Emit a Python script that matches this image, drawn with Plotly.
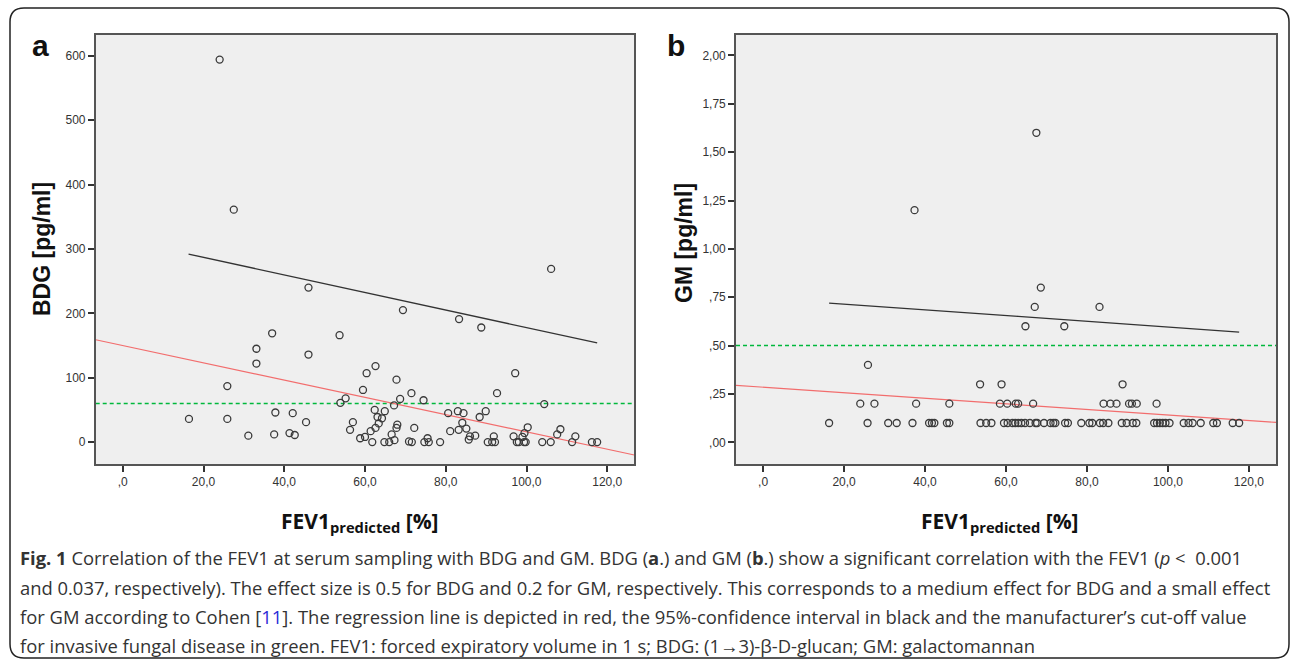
import plotly.graph_objects as go
import re

W, H = 1292, 662

# ---------------- data ----------------
x_tick_vals = [0, 20, 40, 60, 80, 100, 120]
x_tick_text = [",0", "20,0", "40,0", "60,0", "80,0", "100,0", "120,0"]

bdg_tick_vals = [0, 100, 200, 300, 400, 500, 600]
bdg_tick_text = ["0", "100", "200", "300", "400", "500", "600"]

gm_tick_vals = [0, 0.25, 0.5, 0.75, 1.0, 1.25, 1.5, 1.75, 2.0]
gm_tick_text = [",00", ",25", ",50", ",75", "1,00", "1,25", "1,50", "1,75", "2,00"]

bdg_fev1 = [24.0, 27.5, 46.0, 106.1, 69.4, 83.3, 88.8, 37.0, 53.7, 33.1, 46.0, 33.1,
            62.6, 60.4, 97.2, 67.8, 25.9, 59.5, 71.5, 92.7, 55.2, 68.7, 74.5, 53.9,
            67.2, 104.4, 62.4, 64.9, 37.8, 42.1, 80.6, 83.0, 84.4, 89.9, 88.4, 63.1,
            64.2, 16.4, 25.9, 45.4, 57.0, 63.4, 84.1, 68.0, 62.6, 67.8, 72.2, 85.1,
            100.3, 108.4, 56.3, 61.4, 81.1, 83.2, 99.5, 107.6, 112.1, 31.1, 37.5, 41.3,
            42.6, 60.0, 58.8, 66.6, 86.0, 87.3, 85.7, 91.9, 96.8, 99.0, 75.5, 70.9,
            67.3, 61.8, 64.8, 66.0, 71.6, 74.7, 75.8, 78.6, 90.4, 91.5, 92.2, 97.6,
            98.1, 99.4, 99.8, 103.9, 106.0, 111.3, 116.2, 117.5]
bdg_value = [594, 361, 240, 269, 205, 191, 178, 169, 166, 145, 136, 122,
             118, 107, 107, 97, 87, 81, 76, 76, 68, 67, 65, 61,
             57, 59, 50, 48, 46, 45, 45, 48, 45, 48, 39, 39,
             37, 36, 36, 31, 31, 29, 30, 27, 22, 22, 22, 21,
             23, 20, 19, 17, 17, 19, 14, 12, 9, 10, 12, 14,
             11, 8, 6, 12, 9, 10, 4, 9, 9, 8, 6, 1,
             3, 0, 0, 0, 0, 0, 0, 0, 0, 0, 0, 0,
             0, 0, 0, 0, 0, 0, 0, 0]

gm_fev1 = [67.5, 37.4, 68.6, 67.1, 83.1, 64.8, 74.4, 25.9, 53.6, 58.9, 88.8,
           24.0, 27.5, 37.8, 46.0, 58.5, 60.3, 62.4, 63.0, 66.7, 84.1, 85.8, 87.3,
           90.4, 91.1, 92.3, 97.2,
           16.3, 25.8, 30.9, 33.0, 36.9, 41.0, 41.7, 42.3, 45.4, 46.0, 53.7, 55.1,
           56.4, 59.5, 60.4, 61.6, 62.3, 63.0, 63.8, 64.7, 65.9, 67.3, 67.7, 69.4,
           71.0, 71.7, 72.2, 74.6, 75.3, 78.6, 80.6, 81.3, 83.2, 84.0, 85.3, 88.6,
           89.8, 91.3, 92.2, 96.6, 97.3, 98.0, 98.7, 99.4, 100.4, 103.9, 105.1, 106.1,
           108.1, 111.2, 112.1, 116.0, 117.6]
gm_value = [1.6, 1.2, 0.8, 0.7, 0.7, 0.6, 0.6, 0.4, 0.3, 0.3, 0.3,
            0.2, 0.2, 0.2, 0.2, 0.2, 0.2, 0.2, 0.2, 0.2, 0.2, 0.2, 0.2,
            0.2, 0.2, 0.2, 0.2,
            0.1, 0.1, 0.1, 0.1, 0.1, 0.1, 0.1, 0.1, 0.1, 0.1, 0.1, 0.1,
            0.1, 0.1, 0.1, 0.1, 0.1, 0.1, 0.1, 0.1, 0.1, 0.1, 0.1, 0.1,
            0.1, 0.1, 0.1, 0.1, 0.1, 0.1, 0.1, 0.1, 0.1, 0.1, 0.1, 0.1,
            0.1, 0.1, 0.1, 0.1, 0.1, 0.1, 0.1, 0.1, 0.1, 0.1, 0.1, 0.1,
            0.1, 0.1, 0.1, 0.1, 0.1]

# regression lines (intercept, slope), CI upper line points, cut-offs
bdg_reg = (150.0, -1.342)
gm_reg = (0.285, -0.001437)
bdg_ci_x = [16.3, 117.5]
bdg_ci_y = [292.0, 154.0]
gm_ci_x = [16.3, 63.0, 117.6]
gm_ci_y = [0.720, 0.651, 0.570]
bdg_cutoff = 60
gm_cutoff = 0.5

x_range = [-6.7, 126.7]
bdg_range = [-34, 633]
gm_range = [-0.112, 2.108]

caption_lines = [
    "<b>Fig. 1</b> Correlation of the FEV1 at serum sampling with BDG and GM. BDG (<b>a</b>.) and GM (<b>b</b>.) show a significant correlation with the FEV1 (<i>p</i> <  0.001",
    "and 0.037, respectively). The effect size is 0.5 for BDG and 0.2 for GM, respectively. This corresponds to a medium effect for BDG and a small effect",
    "for GM according to Cohen [<span style='color:#2b2bd6'>11</span>]. The regression line is depicted in red, the 95%-confidence interval in black and the manufacturer\u2019s cut-off value",
    "for invasive fungal disease in green. FEV1: forced expiratory volume in 1 s; BDG: (1\u21923)-\u03b2-D-glucan; GM: galactomannan",
]

# ---------------- styling ----------------
def px(x):
    return x / W

def py(y):
    return 1 - y / H

PT_COLOR = "#3a3a3a"
RED = "#f26d6d"
GREEN = "#00b83c"
BLACK = "#333333"

fig = go.Figure()

def add_panel(xs, ys, reg, ci_x, ci_y, cutoff, xa, ya):
    x0, x1 = x_range
    fig.add_trace(go.Scatter(x=[x0, x1], y=[cutoff, cutoff], mode="lines",
                             line=dict(color=GREEN, width=1.5, dash="4px,3px"),
                             xaxis=xa, yaxis=ya, hoverinfo="skip"))
    fig.add_trace(go.Scatter(x=[x0, x1], y=[reg[0] + reg[1] * x0, reg[0] + reg[1] * x1],
                             mode="lines", line=dict(color=RED, width=1.2),
                             xaxis=xa, yaxis=ya, hoverinfo="skip"))
    fig.add_trace(go.Scatter(x=ci_x, y=ci_y, mode="lines",
                             line=dict(color=BLACK, width=1.3, shape="spline"),
                             xaxis=xa, yaxis=ya, hoverinfo="skip"))
    fig.add_trace(go.Scatter(x=xs, y=ys, mode="markers",
                             marker=dict(symbol="circle-open", size=7,
                                         color=PT_COLOR, line=dict(width=1.3, color=PT_COLOR)),
                             xaxis=xa, yaxis=ya))

add_panel(bdg_fev1, bdg_value, bdg_reg, bdg_ci_x, bdg_ci_y, bdg_cutoff, "x", "y")
add_panel(gm_fev1, gm_value, gm_reg, gm_ci_x, gm_ci_y, gm_cutoff, "x2", "y2")

axis_common = dict(showline=True, mirror=True, linecolor="#555555", linewidth=1.6,
                   ticks="outside", ticklen=6, tickwidth=1.6, tickcolor="#333333",
                   showgrid=False, zeroline=False,
                   tickfont=dict(family="Liberation Sans, Arial", size=12, color="#333333"))

ydom = [py(464), py(34.5)]
fig.update_layout(
    width=W, height=H,
    margin=dict(l=0, r=0, t=0, b=0),
    paper_bgcolor="white", plot_bgcolor="#efefef",
    showlegend=False,
    xaxis=dict(domain=[px(95.7), px(634.3)], range=x_range, tickvals=x_tick_vals,
               ticktext=x_tick_text, anchor="y", **axis_common),
    yaxis=dict(domain=ydom, range=bdg_range, tickvals=bdg_tick_vals,
               ticktext=bdg_tick_text, anchor="x", **axis_common),
    xaxis2=dict(domain=[px(736), px(1276)], range=x_range, tickvals=x_tick_vals,
                ticktext=x_tick_text, anchor="y2", **axis_common),
    yaxis2=dict(domain=ydom, range=gm_range, tickvals=gm_tick_vals,
                ticktext=gm_tick_text, anchor="x2", **axis_common),
)

ann = []
title_font = dict(family="Liberation Sans, Arial", size=23, color="#111111")
ann.append(dict(text="<b>a</b>", x=px(40), y=py(46), font=dict(family="Liberation Sans, Arial", size=30, color="#111")))
ann.append(dict(text="<b>b</b>", x=px(676), y=py(46), font=dict(family="Liberation Sans, Arial", size=30, color="#111")))
ann.append(dict(text="<b>BDG [pg/ml]</b>", x=px(42), y=py(249), textangle=-90, font=title_font))
ann.append(dict(text="<b>GM [pg/ml]</b>", x=px(684), y=py(243), textangle=-90, font=title_font))
xt = "<b>FEV1<sub>predicted</sub> [%]</b>"
ann.append(dict(text=xt, x=px(360), y=py(522), font=dict(family="Open Sans", size=21, color="#111")))
ann.append(dict(text=xt, x=px(1000), y=py(522), font=dict(family="Open Sans", size=21, color="#111")))

cap_y = [557, 587, 616, 645]
for line, yy in zip(caption_lines, cap_y):
    ann.append(dict(text=line, x=px(18), y=py(yy), xanchor="left",
                    font=dict(family="Open Sans", size=18.4, color="#333333")))

for a in ann:
    a.setdefault("xanchor", "center")
    a.update(xref="paper", yref="paper", showarrow=False, yanchor="middle")
fig.update_layout(annotations=ann)

# outer rounded frame (pixel path converted to paper coordinates)
r = 14
x0f, y0f, x1f, y1f = 10, 8, 1289, 658
path = (f"M {x0f+r},{y0f} L {x1f-r},{y0f} Q {x1f},{y0f} {x1f},{y0f+r} "
        f"L {x1f},{y1f-r} Q {x1f},{y1f} {x1f-r},{y1f} L {x0f+r},{y1f} "
        f"Q {x0f},{y1f} {x0f},{y1f-r} L {x0f},{y0f+r} Q {x0f},{y0f} {x0f+r},{y0f} Z")

def to_paper(m):
    xv, yv = float(m.group(1)), float(m.group(2))
    return f"{px(xv):.5f},{py(yv):.5f}"

fig.add_shape(type="path", path=re.sub(r"(-?[\d.]+),(-?[\d.]+)", to_paper, path),
              xref="paper", yref="paper",
              line=dict(color="#222222", width=1.5), layer="below")

fig.write_html("out.html")
